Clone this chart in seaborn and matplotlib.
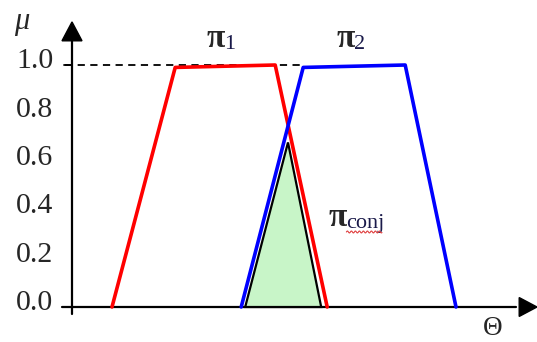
import numpy as np
import pandas as pd
import matplotlib
matplotlib.use("Agg")
import matplotlib.pyplot as plt
import seaborn as sns
from matplotlib.patches import Polygon

sns.set_theme(style="white")
plt.rcParams["font.family"] = ["Liberation Serif", "DejaVu Serif"]

# Possibility distributions (theta, mu) vertices
pi1_theta = [1.0, 2.58, 5.08, 6.38]
pi1_mu = [0.0, 0.99, 1.0, 0.0]
pi2_theta = [4.23, 5.78, 8.33, 9.6]
pi2_mu = [0.0, 0.99, 1.0, 0.0]
conj_theta = [4.33, 5.4, 6.23]
conj_mu = [0.0, 0.68, 0.0]
ytick_values = [0.0, 0.2, 0.4, 0.6, 0.8, 1.0]
ytick_labels = ["0.0", "0.2", "0.4", "0.6", "0.8", "1.0"]

XLIM = (-1.8, 11.625)
YLIM = (-0.1446, 1.2686)

fig = plt.figure(figsize=(5.37, 3.42), dpi=100)
ax = fig.add_axes([0, 0, 1, 1])

# Conjunction triangle
ax.add_patch(Polygon(list(zip(conj_theta, conj_mu)), closed=True,
                     facecolor="#c8f5c8", edgecolor="black", lw=1.6, zorder=2))

df1 = pd.DataFrame({"theta": pi1_theta, "mu": pi1_mu})
df2 = pd.DataFrame({"theta": pi2_theta, "mu": pi2_mu})
sns.lineplot(data=df1, x="theta", y="mu", sort=False, color="#ff0000",
             lw=2.6, ax=ax, zorder=3)
sns.lineplot(data=df2, x="theta", y="mu", sort=False, color="#0000ff",
             lw=2.6, ax=ax, zorder=4)
ax.set_xlim(*XLIM)
ax.set_ylim(*YLIM)
ax.axis("off")

# Dashed level mu = 1
ax.plot([-0.18, 5.7], [1.0, 1.0], ls=(0, (4, 3)), color="black", lw=1.3, zorder=1)

# Axes with arrow heads
ax.plot([-0.25, 11.1], [0, 0], color="black", lw=1.6, zorder=1)
ax.plot([0, 0], [-0.03, 1.1], color="black", lw=1.6, zorder=1)
ax.add_patch(Polygon([[11.625, 0.0], [11.18, 0.039], [11.18, -0.039]],
                     closed=True, color="black", zorder=5))
ax.add_patch(Polygon([[0.0, 1.178], [-0.25, 1.1], [0.25, 1.1]],
                     closed=True, color="black", zorder=5))
ax.plot([-0.2, 0], [1.0, 1.0], color="black", lw=1.3)

# Y tick labels
for v, lab in zip(ytick_values, ytick_labels):
    ax.text(-0.47, v + 0.016, lab, ha="right", va="center", fontsize=21.5)

ax.text(-1.25, 1.178, "μ", fontsize=22, fontstyle="italic", ha="center", va="center")
ax.text(10.52, -0.09, "Θ", fontsize=19.5, ha="center", va="center")

# Distribution labels
sub_color = "#1a1a4a"
ax.text(3.6, 1.11, "π", fontsize=24, fontweight="bold", ha="center", va="center")
ax.text(3.95, 1.085, "1", fontsize=16, color=sub_color, ha="center", va="center")
ax.text(6.85, 1.11, "π", fontsize=24, fontweight="bold", ha="center", va="center")
ax.text(7.2, 1.085, "2", fontsize=16, color=sub_color, ha="center", va="center")
ax.text(6.64, 0.368, "π", fontsize=24, fontweight="bold", ha="center", va="center")
ax.text(6.86, 0.345, "conj", fontsize=16, color=sub_color, ha="left", va="center")

# Wavy underline beneath the subscript
wx = np.linspace(6.86, 7.75, 80)
wy = 0.31 + 0.004 * np.sin((wx - 6.86) * 2 * np.pi / 0.1)
ax.plot(wx, wy, color="#e04040", lw=0.8, zorder=6)

fig.savefig("out.png", dpi=100)
